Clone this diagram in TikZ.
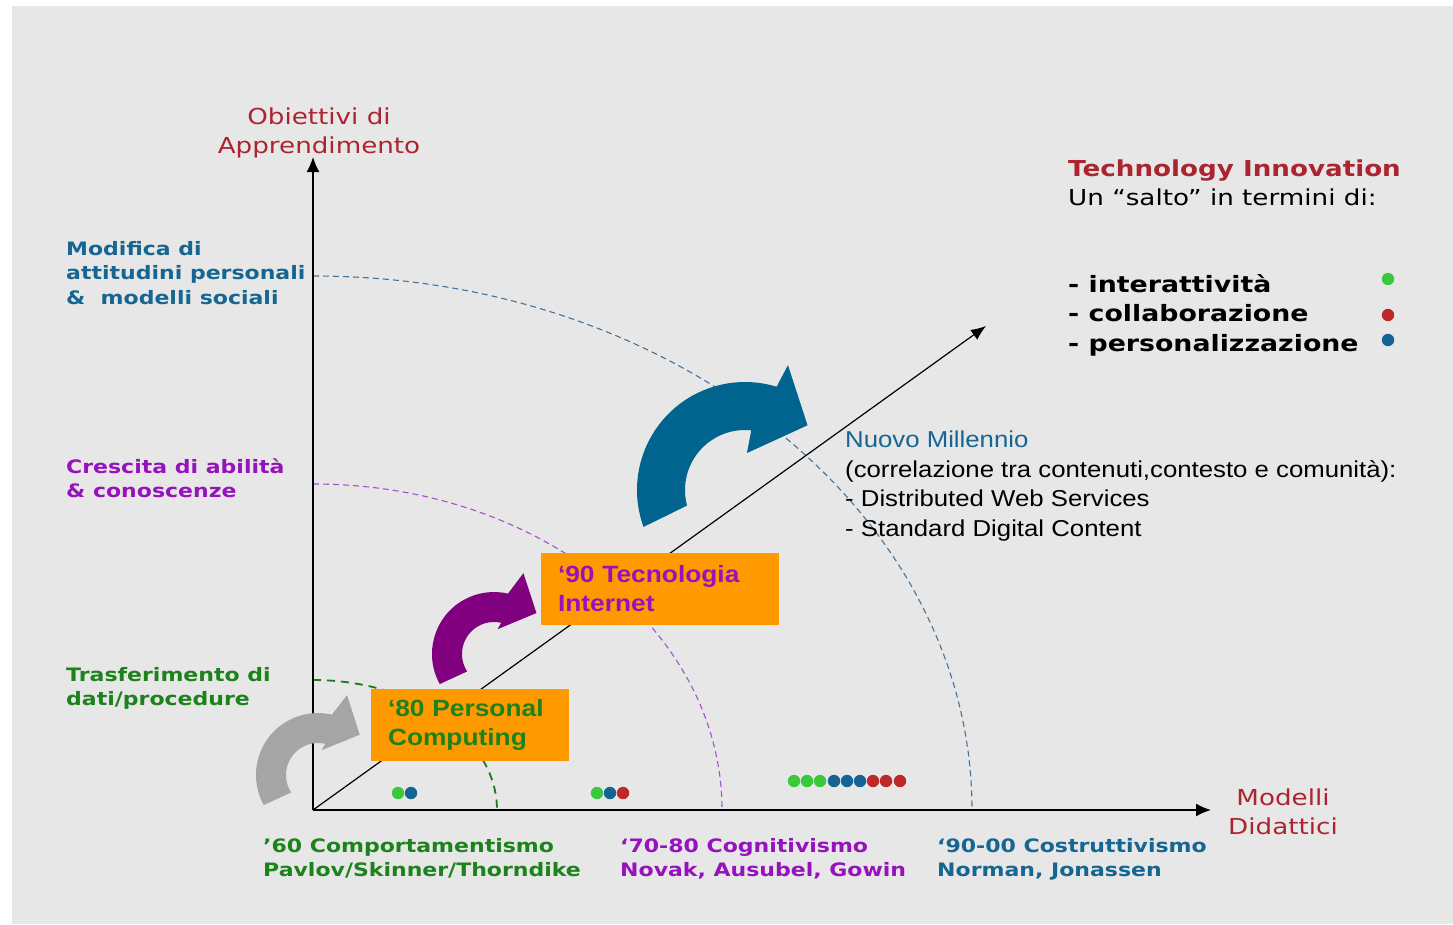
\documentclass[tikz,border=0pt]{standalone}
\usepackage{fontspec}
\setmainfont{DejaVu Sans}[FakeStretch=1.19]
\newfontfamily\arial{Liberation Sans}[FakeStretch=1.12]
\usetikzlibrary{arrows.meta,calc}
\definecolor{bg}{RGB}{231,231,231}
\definecolor{titlered}{RGB}{172,36,48}
\definecolor{tblue}{RGB}{22,102,145}
\definecolor{tpurple}{RGB}{150,18,188}
\definecolor{tgreen}{RGB}{28,130,28}
\definecolor{boxorange}{RGB}{255,153,0}
\definecolor{arrgray}{RGB}{165,165,165}
\definecolor{arrpurple}{RGB}{128,0,128}
\definecolor{arrblue}{RGB}{0,100,142}
\definecolor{dotgreen}{RGB}{60,200,60}
\definecolor{dotred}{RGB}{190,40,40}
\definecolor{dotblue}{RGB}{20,100,150}
\definecolor{arcblue}{RGB}{70,115,155}
\definecolor{arcpurple}{RGB}{165,80,205}
\definecolor{arcgreen}{RGB}{30,120,30}
\begin{document}
\begin{tikzpicture}[x=1pt,y=-1pt,
  lbl/.style={anchor=north west,inner sep=0pt,align=left,font=\fontsize{18.5}{24.5}\selectfont\bfseries},
  axis/.style={line width=1.5pt,-{Latex[length=15pt,width=13pt]}},
  obox/.style={fill=boxorange,inner xsep=17pt,inner ysep=0pt,minimum height=72pt,align=left,font=\arial\fontsize{23.5}{29}\selectfont\bfseries},
  dot/.style={radius=6.2}
]
\useasboundingbox (0,0) rectangle (1453,924);
\fill[bg] (12,6) rectangle (1453,924);

% axes coordinates
\coordinate (O) at (313,810);
\coordinate (ytip) at (313,157);
\coordinate (xtip) at (1211,810);
\coordinate (dtip) at (986,326);

% dashed arcs
\draw[arcblue,line width=1.1pt,dash pattern=on 6pt off 4pt] (313,276) arc[start angle=-90,end angle=0,x radius=659,y radius=534];
\draw[arcpurple,line width=1.1pt,dash pattern=on 6pt off 4pt] (313,484) arc[start angle=-90,end angle=0,x radius=409,y radius=326];
\draw[arcgreen,line width=1.8pt,dash pattern=on 8pt off 6pt] (313,680) arc[start angle=-90,end angle=0,x radius=184,y radius=130];

% axes
\draw[axis] (O) -- (ytip);
\draw[axis] (O) -- (xtip);
\draw[line width=1.2pt,-{Latex[length=15pt,width=12pt]}] (O) -- (dtip);

% curved block arrows
\coordinate (Cg) at (318,775);
\fill[arrgray] ($(Cg)+(151:62)$) arc[start angle=151,end angle=283,radius=62]
  -- ($(Cg)+(290:85)$) -- ($(Cg)+(316:58)$) -- ($(Cg)+(278:25)$)
  -- ($(Cg)+(283:32)$) arc[start angle=283,end angle=147,radius=32] -- cycle;
\coordinate (Cp) at (494,654);
\fill[arrpurple] ($(Cp)+(151:62)$) arc[start angle=151,end angle=283,radius=62]
  -- ($(Cp)+(290:86)$) -- ($(Cp)+(316:59)$) -- ($(Cp)+(278:25)$)
  -- ($(Cp)+(283:32)$) arc[start angle=283,end angle=147,radius=32] -- cycle;
\coordinate (Cb) at (745,490);
\fill[arrblue] ($(Cb)+(160:108)$) arc[start angle=160,end angle=287,radius=108]
  -- ($(Cb)+(289:132)$) -- ($(Cb)+(314:90)$) -- ($(Cb)+(273:37)$)
  -- ($(Cb)+(276:60)$) arc[start angle=276,end angle=165,radius=60] -- cycle;

% orange boxes
\node[obox,minimum width=198pt,text width=164pt,text=tgreen] (pc) at (470,725) {‘80 Personal\\Computing};
\node[obox,minimum width=238pt,text width=204pt,text=tpurple] (inet) at (660,589) {‘90 Tecnologia\\Internet};

% axis titles
\node[anchor=north,inner sep=0pt,align=center,text=titlered,font=\fontsize{22}{29}\selectfont] (ytitle) at (319,108) {Obiettivi di\\Apprendimento};
\node[anchor=north,inner sep=0pt,align=center,text=titlered,font=\fontsize{22}{29}\selectfont] (xtitle) at (1283,789) {Modelli\\Didattici};

% left labels
\node[lbl,text=tblue] (l1) at (66,241) {Modifica di\\attitudini personali\\\&\ \ modelli sociali};
\node[lbl,text=tpurple] (l2) at (66,458) {Crescita di abilità\\\& conoscenze};
\node[lbl,text=tgreen] (l3) at (66,667) {Trasferimento di\\dati/procedure};

% bottom labels
\node[lbl,text=tgreen] (b1) at (263,838) {’60 Comportamentismo\\Pavlov/Skinner/Thorndike};
\node[lbl,text=tpurple] (b2) at (620,838) {‘70-80 Cognitivismo\\Novak, Ausubel, Gowin};
\node[lbl,text=tblue] (b3) at (937,838) {‘90-00 Costruttivismo\\Norman, Jonassen};

% right panel
\node[anchor=north west,inner sep=0pt,align=left,font=\fontsize{22}{29}\selectfont] (ti) at (1068,160) {{\bfseries\color{titlered}Technology Innovation}\\Un “salto” in termini di:};
\node[anchor=north west,inner sep=0pt,align=left,font=\fontsize{22.5}{29.5}\selectfont\bfseries] (list) at (1068,274) {- interattività\\- collaborazione\\- personalizzazione};
\fill[dotgreen] (1388,279) circle[dot];
\fill[dotred] (1388,315) circle[dot];
\fill[dotblue] (1388,340) circle[dot];

% Nuovo Millennio
\node[anchor=north west,inner sep=0pt,align=left,font=\arial\fontsize{23}{29.5}\selectfont] (nm) at (845,431) {{\color{tblue}Nuovo Millennio}\\(correlazione tra contenuti,contesto e comunità):\\- Distributed Web Services\\- Standard Digital Content};

% dots on the x axis
\fill[dotgreen] (398,793) circle[dot];
\fill[dotblue] (411,793) circle[dot];
\fill[dotgreen] (597,793) circle[dot];
\fill[dotblue] (610,793) circle[dot];
\fill[dotred] (623,793) circle[dot];
\fill[dotgreen] (794,781) circle[dot];
\fill[dotgreen] (807,781) circle[dot];
\fill[dotgreen] (820,781) circle[dot];
\fill[dotblue] (834,781) circle[dot];
\fill[dotblue] (847,781) circle[dot];
\fill[dotblue] (860,781) circle[dot];
\fill[dotred] (873,781) circle[dot];
\fill[dotred] (886,781) circle[dot];
\fill[dotred] (900,781) circle[dot];
\end{tikzpicture}
\end{document}
